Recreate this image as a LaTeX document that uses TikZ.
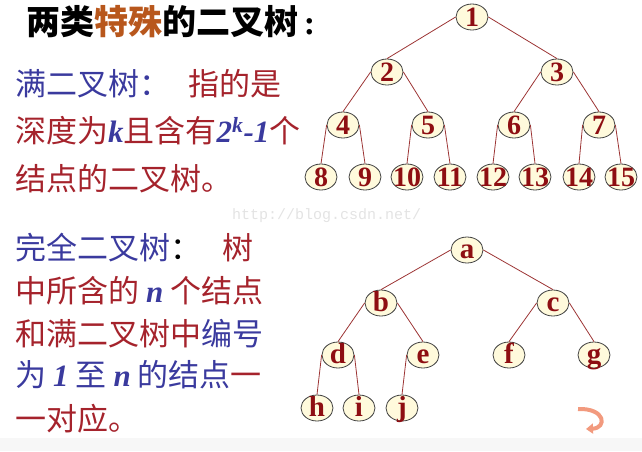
\documentclass[tikz,border=0pt]{standalone}
\usepackage{fontspec}
\setmainfont{Liberation Serif}
\newfontfamily\cjk{Noto Sans CJK SC}
\newfontfamily\urlfont{Liberation Mono}
\usetikzlibrary{calc,positioning,shapes.geometric,arrows.meta}

\definecolor{textred}{HTML}{A5232C}
\definecolor{textblue}{HTML}{3A3A9E}
\definecolor{textorange}{HTML}{B8571C}
\definecolor{nodefill}{HTML}{FFFADC}
\definecolor{nodered}{HTML}{8E0E12}
\definecolor{edgered}{HTML}{9C3434}
\definecolor{backsalmon}{HTML}{F29A7E}

\newcommand{\bodyfont}{\cjk\fontsize{31}{31}\selectfont}
\newcommand{\latin}[1]{\textcolor{textblue}{\rmfamily\bfseries\itshape #1}}

\tikzset{
  treenode/.style={ellipse, draw=black!75, fill=nodefill, line width=0.8pt,
    minimum width=32pt, minimum height=26pt, inner sep=0pt,
    text height=18pt, text depth=0pt, text=nodered,
    font=\rmfamily\bfseries\fontsize{28}{28}\selectfont},
  letternode/.style={treenode, text height=16pt,
    font=\rmfamily\bfseries\fontsize{29}{29}\selectfont},
  treeedge/.style={draw=edgered, line width=0.8pt},
  textline/.style={anchor=base west, inner sep=0pt, text=textred, font=\bodyfont}
}

\begin{document}
\begin{tikzpicture}[x=1pt, y=-1pt]
    \useasboundingbox (0,0) rectangle (642,451);
    \fill[gray!6] (0,438) rectangle (642,451);

    % left column of text
    \node[textline, text=black, font=\cjk\bfseries\fontsize{34}{34}\selectfont]
      (title) at (26,34) {两类\textcolor{textorange}{特殊}的二叉树\rmfamily\,:};
    \node[textline] (full_a) at (15,95)
      {\textcolor{textblue}{满二叉树：}\hspace{0.6em}指的是};
    \node[textline] (full_b) at (15,142)
      {深度为\latin{k}且含有\latin{2\textsuperscript{k}-1}个};
    \node[textline] (full_c) at (15,190) {结点的二叉树。};

    \node[textline] (comp_a) at (15,259)
      {\textcolor{textblue}{完全二叉树}\textcolor{black}{：}\hspace{0.7em}树};
    \node[textline] (comp_b) at (15,302) {中所含的 \latin{n} 个结点};
    \node[textline] (comp_c) at (15,345)
      {和满二叉树中\textcolor{textblue}{编号}};
    \node[textline] (comp_d) at (15,386)
      {\textcolor{textblue}{为 \latin{1} 至 \latin{n} 的结点}一};
    \node[textline] (comp_e) at (15,430) {一对应。};

    \node[anchor=west, inner sep=0pt, text=gray!22,
      font=\urlfont\fontsize{15}{15}\selectfont] (mark) at (232,216)
      {http://blog.csdn.net/};

    % full binary tree
    \foreach \name/\x/\y in {1/472/17, 2/387/72, 3/557/72,
      4/343/125, 5/428/125, 6/514/125, 7/599/125,
      8/321/177, 9/365/177, 10/407/177, 11/450/177,
      12/493/177, 13/535/177, 14/579/177, 15/621/177} {
      \node[treenode] (full_\name) at (\x,\y) {\makebox[0pt]{\name}};
    }
    \foreach \parent/\child/\side in {1/2/west, 1/3/east,
      2/4/west, 2/5/east, 3/6/west, 3/7/east,
      4/8/west, 4/9/east, 5/10/west, 5/11/east,
      6/12/west, 6/13/east, 7/14/west, 7/15/east} {
      \draw[treeedge] (full_\parent.\side) -- (full_\child.north);
    }

    % complete binary tree
    \foreach \name/\x/\y in {a/467/250, b/381/303, c/553/303,
      d/338/355, e/423/355, f/509/355, g/594/355,
      h/317/408, i/359/408, j/402/408} {
      \node[letternode] (comp_\name) at (\x,\y) {\makebox[0pt]{\name}};
    }
    \foreach \parent/\child/\side in {a/b/west, a/c/east,
      b/d/west, b/e/east, c/f/west, c/g/east,
      d/h/west, d/i/east, e/j/west} {
      \draw[treeedge] (comp_\parent.\side) -- (comp_\child.north);
    }

    % back button
    \draw[backsalmon, line width=4pt, -{Triangle[length=7pt, width=10pt]}]
      (578,409) .. controls (606,408) and (607,428) .. (586,429);
  \end{tikzpicture}
\end{document}
